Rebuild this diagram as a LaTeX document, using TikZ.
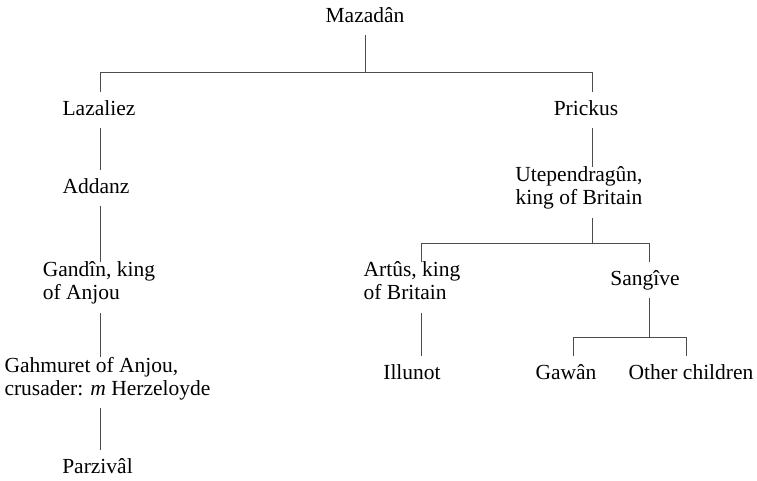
\documentclass[tikz,border=0pt]{standalone}
\usepackage{fontspec}
\setmainfont{Liberation Serif}
\usetikzlibrary{calc}

\begin{document}
\begin{tikzpicture}[x=1pt, y=-1pt,
  person/.style={inner sep=0pt, outer sep=0pt, anchor=north,
    font=\fontsize{21.5}{23}\selectfont,
    execute at begin node={\rule{0pt}{23.2pt}},
    execute at end node={\rule[-13pt]{0pt}{13pt}}},
  link/.style={draw=black!70, line width=0.9pt}]
  \useasboundingbox (0,0) rectangle (757,480);

  % the people
  \node[person] (maz) at (365,-1) {Mazadân};
  \node[person] (laz) at (99,92) {Lazaliez};
  \node[person] (add) at (96,170) {Addanz};
  \node[person, align=left] (gan) at (99,262) {Gandîn, king\\of Anjou};
  \node[person, align=left] (gah) at (107.5,357) {Gahmuret of Anjou,\\crusader: \textit{m} Herzeloyde};
  \node[person] (par) at (97.5,450) {Parzivâl};
  \node[person] (pri) at (586,92) {Prickus};
  \node[person, align=center] (ute) at (579,167) {Utependragûn,\\king of Britain};
  \node[person, align=left] (art) at (412,262) {Artûs, king\\of Britain};
  \node[person] (ill) at (412,356) {Illunot};
  \node[person] (san) at (645,262) {Sangîve};
  \node[person] (gaw) at (566,356) {Gawân};
  \node[person] (oth) at (691,356) {Other children};

  % bars between the generations
  \coordinate (ml) at (100,72);  % left end of top bar
  \coordinate (mr) at (592,72);  % right end of top bar
  \coordinate (ul) at (421,243); % left end of Utependragun's bar
  \coordinate (ur) at (649,243); % right end of Utependragun's bar
  \coordinate (sl) at (573,337); % left end of Sangive's bar
  \coordinate (sr) at (686,337); % right end of Sangive's bar

  \draw[link] (maz.south) -- (maz.south |- ml);
  \draw[link] (ml |- laz.north) -- (ml) -- (mr) -- (mr |- pri.north);

  % left line
  \draw[link] (ml |- laz.south) -- (ml |- add.north);
  \draw[link] (ml |- add.south) -- (ml |- gan.north);
  \draw[link] (ml |- gan.south) -- (ml |- gah.north);
  \draw[link] (ml |- gah.south) -- (ml |- par.north);

  % right line
  \draw[link] (mr |- pri.south) -- (mr |- ute.north);
  \draw[link] (mr |- ute.south) -- (mr |- ul);
  \draw[link] (ul |- art.north) -- (ul) -- (ur) -- (ur |- san.north);
  \draw[link] (ul |- art.south) -- (ul |- ill.north);
  \draw[link] (ur |- san.south) -- (ur |- sl);
  \draw[link] (sl |- gaw.north) -- (sl) -- (sr) -- (sr |- oth.north);
\end{tikzpicture}
\end{document}
